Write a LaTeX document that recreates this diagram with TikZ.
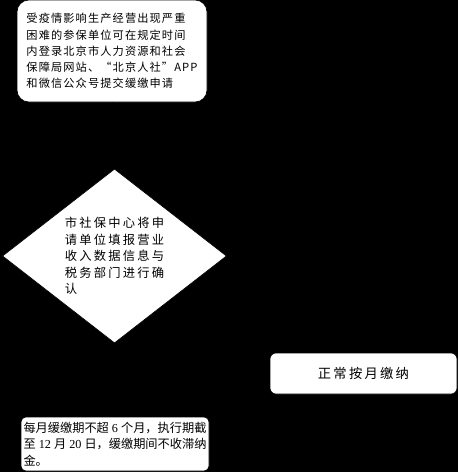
\documentclass[tikz,border=0pt]{standalone}
\usepackage{fontspec}
\usetikzlibrary{shapes.geometric,arrows.meta}
\newfontfamily\cjk{Noto Sans CJK SC}
\newfontfamily\cjktop[LetterSpace=10]{Noto Sans CJK SC}
\newfontfamily\cjkdia[LetterSpace=18]{Noto Sans CJK SC}
\newfontfamily\cjkright[LetterSpace=17]{Noto Sans CJK SC}
\newfontfamily\latser{Liberation Serif}
\tikzset{
  box/.style={draw=black, fill=white, line width=0.6pt, inner sep=0pt, text=black},
  conn/.style={draw=black, line width=0.8pt, -{Stealth[length=6pt]}}
}
\begin{document}
\begin{tikzpicture}[x=1pt,y=-1pt]
\fill[black] (0,0) rectangle (458,472);
\useasboundingbox (0,0) rectangle (458,472);
\node[box, rounded corners=12pt, minimum width=190pt, minimum height=102pt, align=left,
  font=\fontsize{11.2}{16.25}\cjktop] (top) at (112,51)
  {受疫情影响生产经营出现严重\\困难的参保单位可在规定时间\\内登录北京市人力资源和社会\\保障局网站、“北京人社”APP\\和微信公众号提交缓缴申请};
\node[box, diamond, aspect=1.287, minimum width=224pt, minimum height=174pt, align=left,
  font=\fontsize{12.3}{16.5}\cjkdia] (dec) at (114.5,256)
  {市社保中心将申\\请单位填报营业\\收入数据信息与\\税务部门进行确\\认};
\node[box, rounded corners=6pt, minimum width=187pt, minimum height=41pt,
  font=\fontsize{13.3}{16}\cjkright] (normal) at (363.5,373.5) {正常按月缴纳};
\node[box, rounded corners=5pt, inner sep=2pt, minimum width=188pt, minimum height=54pt, align=left,
  font=\fontsize{12.2}{16.5}\cjk] (note) at (115,444)
  {\mbox{每月缓缴期不超{\latser\ 6 }个月，执行期截}\\\mbox{至{\latser\ 12 }月{\latser\ 20 }日，缓缴期间不收滞纳}\\\mbox{金。}};
\draw[conn] (top) -- (dec);
\draw[conn] (dec) -- (note);
\draw[conn] (dec.east) -| (normal.north);
\end{tikzpicture}
\end{document}
